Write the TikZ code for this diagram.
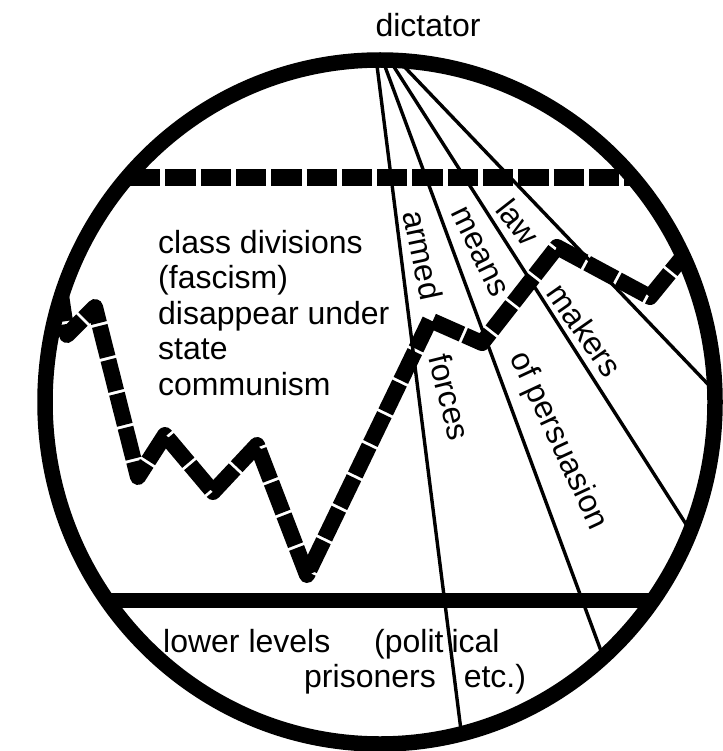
\documentclass[tikz,border=0pt]{standalone}
\usepackage{fontspec}
\setmainfont{Liberation Sans}

\begin{document}
\begin{tikzpicture}[x=1pt,y=-1pt,line join=round,
  ring/.style={line width=15.5pt},
  ray/.style={line width=3.4pt},
  split/.style={line width=17pt,dash pattern=on 30.3pt off 5pt},
  floor/.style={line width=15pt},
  wave/.style={line width=16pt,dash pattern=on 32pt off 3pt},
  lbl/.style={font=\fontsize{32}{35.5}\selectfont,inner sep=0pt}]
\useasboundingbox (0,0) rectangle (722,751);
% outline and the dictator's point
\coordinate (mid) at (380,402);
\coordinate (apex) at (373,34);
\begin{scope}
  \clip (mid) ellipse [x radius=335, y radius=342];
  % rays of power
  \foreach \dx in {93,272,470,704}
    \draw[ray] (apex) -- ++(\dx,736);
  % upper and lower bounds
  \draw[split] (130,178) -- (700,178);
  \draw[floor] (0,600) -- (722,600);
  % the ragged line
  \draw[wave] (55,255) -- (67,335) -- (95,307) -- (138,477) -- (165,435)
    -- (213,492) -- (257,445) -- (307,575) -- (430,320) -- (482,343)
    -- (557,247) -- (650,297) -- (690,248);
\end{scope}
\draw[ring] (mid) ellipse [x radius=335, y radius=342];
% labels
\node[lbl,anchor=base] (dictator) at (428,37) {dictator};
\node[lbl,anchor=north west,align=left] (classes) at (158,230)
  {class divisions\\(fascism)\\disappear under\\state\\communism};
\node[lbl,rotate=-78] (armed) at (423,255) {armed};
\node[lbl,rotate=-64] (means) at (479,252) {means};
\node[lbl,rotate=-52] (law) at (518,222) {law};
\node[lbl,rotate=-76] (forces) at (450,397) {forces};
\node[lbl,rotate=-65] (persuasion) at (558,441) {of persuasion};
\node[lbl,rotate=-55] (makers) at (585,330) {makers};
\node[lbl,anchor=base west] (lower) at (163,652) {lower levels};
\node[lbl,anchor=base west] (political) at (374,652) {(polit\hspace{8pt}ical};
\node[lbl,anchor=base west] (prisoners) at (304,687) {prisoners\hspace{28pt}etc.)};
\end{tikzpicture}
\end{document}
